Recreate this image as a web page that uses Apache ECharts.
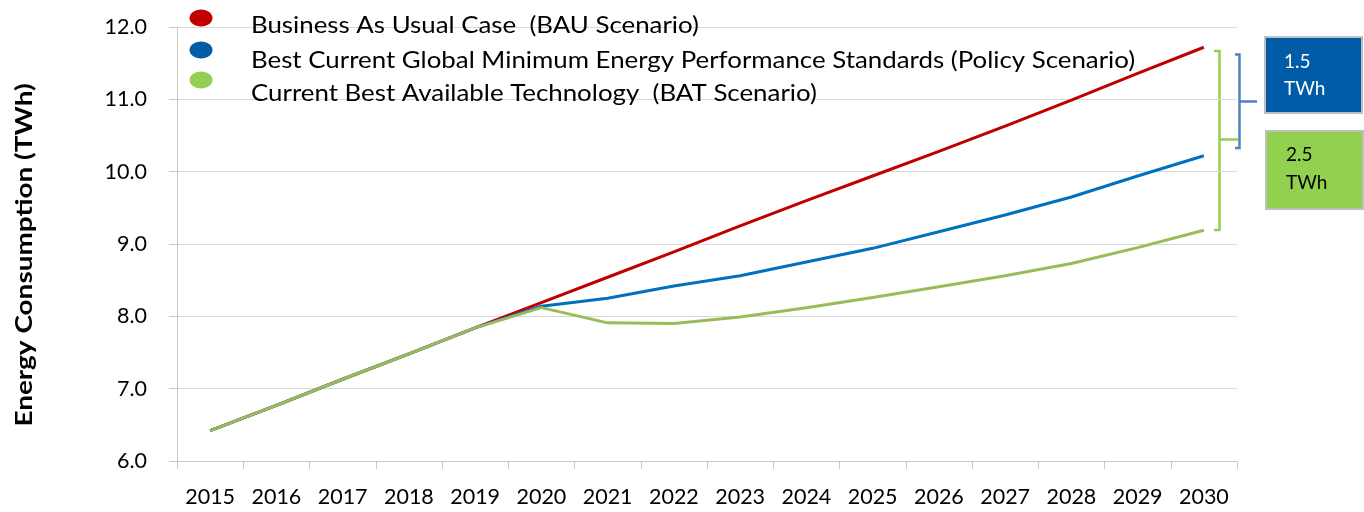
<!DOCTYPE html>
<html>
<head>
<meta charset="utf-8">
<script src="https://cdn.jsdelivr.net/npm/echarts@6/dist/echarts.min.js"></script>
<style>
html,body{margin:0;padding:0;background:#fff;}
#chart{width:1364px;height:512px;}
</style>
</head>
<body>
<div id="chart"></div>
<script>
const years = ['2015','2016','2017','2018','2019','2020','2021','2022','2023','2024','2025','2026','2027','2028','2029','2030'];
const bau    = [6.42, 6.77, 7.13, 7.48, 7.84, 8.19, 8.54, 8.89, 9.25, 9.60, 9.94, 10.28, 10.63, 10.99, 11.36, 11.72];
const policy = [6.42, 6.77, 7.13, 7.48, 7.84, 8.14, 8.25, 8.42, 8.56, 8.75, 8.94, 9.17, 9.40, 9.65, 9.94, 10.22];
const bat    = [6.42, 6.77, 7.13, 7.48, 7.84, 8.12, 7.91, 7.90, 7.99, 8.12, 8.26, 8.41, 8.56, 8.73, 8.95, 9.19];
const seriesNames = [
  'Business As Usual Case  (BAU Scenario)',
  'Best Current Global Minimum Energy Performance Standards (Policy Scenario)',
  'Current Best Available Technology  (BAT Scenario)'
];
const yTicks = [6, 7, 8, 9, 10, 11, 12];
const yTitle = 'Energy Consumption (TWh)';
const gapLabels = ['1.5', '2.5'];
const gapUnit = 'TWh';

const lineColors = ['#c00000', '#0070c0', '#9bbb59'];
const dotColors = ['#c00000', '#005ca6', '#92d050'];
const FONT = 'Lato, "Open Sans", sans-serif';

const chart = echarts.init(document.getElementById('chart'), null, {renderer: 'canvas'});

const dotY = [18, 50, 80];
const textY = [25.5, 60.5, 94];
const legendGraphics = [];
seriesNames.forEach((n, i) => {
  legendGraphics.push({
    type: 'ellipse', shape: {cx: 201, cy: dotY[i], rx: 11.5, ry: 8.5},
    style: {fill: dotColors[i]}, z: 10
  });
  legendGraphics.push({
    type: 'text', x: 251, y: textY[i], scaleX: 1.124,
    style: {text: n, font: '23px ' + FONT, fill: '#000', textVerticalAlign: 'middle', textAlign: 'left'},
    z: 10
  });
});

const option = {
  backgroundColor: '#fff',
  animation: false,
  grid: {left: 177, right: 127, top: 27, bottom: 51, containLabel: false},
  xAxis: {
    type: 'category',
    data: years,
    boundaryGap: true,
    axisLine: {show: true, lineStyle: {color: '#c8c8c8', width: 1}},
    axisTick: {show: true, length: 8, lineStyle: {color: '#c8c8c8'}},
    axisLabel: {color: '#000', fontSize: 21.5, fontFamily: FONT, margin: 25, interval: 0},
    splitLine: {show: false}
  },
  yAxis: {
    type: 'value',
    min: yTicks[0], max: yTicks[yTicks.length - 1], interval: 1,
    axisLine: {show: true, lineStyle: {color: '#c8c8c8', width: 1}},
    axisTick: {show: true, length: 8, lineStyle: {color: '#c8c8c8'}},
    axisLabel: {color: '#000', fontSize: 21.5, fontFamily: FONT, margin: 30, formatter: v => v.toFixed(1)},
    splitLine: {show: true, lineStyle: {color: '#d9d9d9', width: 1}}
  },
  series: [
    {name: seriesNames[0], type: 'line', data: bau, symbol: 'none', smooth: false,
     lineStyle: {color: lineColors[0], width: 3}, z: 2},
    {name: seriesNames[1], type: 'line', data: policy, symbol: 'none', smooth: false,
     lineStyle: {color: lineColors[1], width: 3}, z: 3},
    {name: seriesNames[2], type: 'line', data: bat, symbol: 'none', smooth: false,
     lineStyle: {color: lineColors[2], width: 3}, z: 4}
  ],
  graphic: [
    {type: 'text', x: 25, y: 255, rotation: Math.PI / 2, scaleX: 1.27,
     style: {text: yTitle, font: 'bold 22px ' + FONT, fill: '#000', textAlign: 'center', textVerticalAlign: 'middle'}},
    ...legendGraphics,
    // green bracket
    {type: 'polyline', shape: {points: [[1214, 51], [1219.5, 51], [1219.5, 230], [1214, 230]]},
     style: {stroke: '#92d050', lineWidth: 2.5, fill: null}},
    {type: 'line', shape: {x1: 1219.5, y1: 139.5, x2: 1238, y2: 139.5},
     style: {stroke: '#92d050', lineWidth: 2.5}},
    // blue bracket
    {type: 'polyline', shape: {points: [[1235, 54.5], [1239.5, 54.5], [1239.5, 148], [1235, 148]]},
     style: {stroke: '#4f81bd', lineWidth: 2.5, fill: null}},
    {type: 'line', shape: {x1: 1239.5, y1: 101.5, x2: 1257, y2: 101.5},
     style: {stroke: '#4f81bd', lineWidth: 2.5}},
    // boxes
    {type: 'rect', shape: {x: 1265, y: 37, width: 97, height: 76},
     style: {fill: '#005ca6', stroke: '#bfbfbf', lineWidth: 2}},
    {type: 'text', x: 1284, y: 62, style: {text: gapLabels[0], font: '19px ' + FONT, fill: '#fff', textVerticalAlign: 'middle'}},
    {type: 'text', x: 1284, y: 89, style: {text: gapUnit, font: '19px ' + FONT, fill: '#fff', textVerticalAlign: 'middle'}},
    {type: 'rect', shape: {x: 1266, y: 131, width: 97, height: 78},
     style: {fill: '#92d050', stroke: '#bfbfbf', lineWidth: 2}},
    {type: 'text', x: 1286, y: 155, style: {text: gapLabels[1], font: '19px ' + FONT, fill: '#000', textVerticalAlign: 'middle'}},
    {type: 'text', x: 1286, y: 183, style: {text: gapUnit, font: '19px ' + FONT, fill: '#000', textVerticalAlign: 'middle'}}
  ]
};
chart.setOption(option);
</script>
</body>
</html>
